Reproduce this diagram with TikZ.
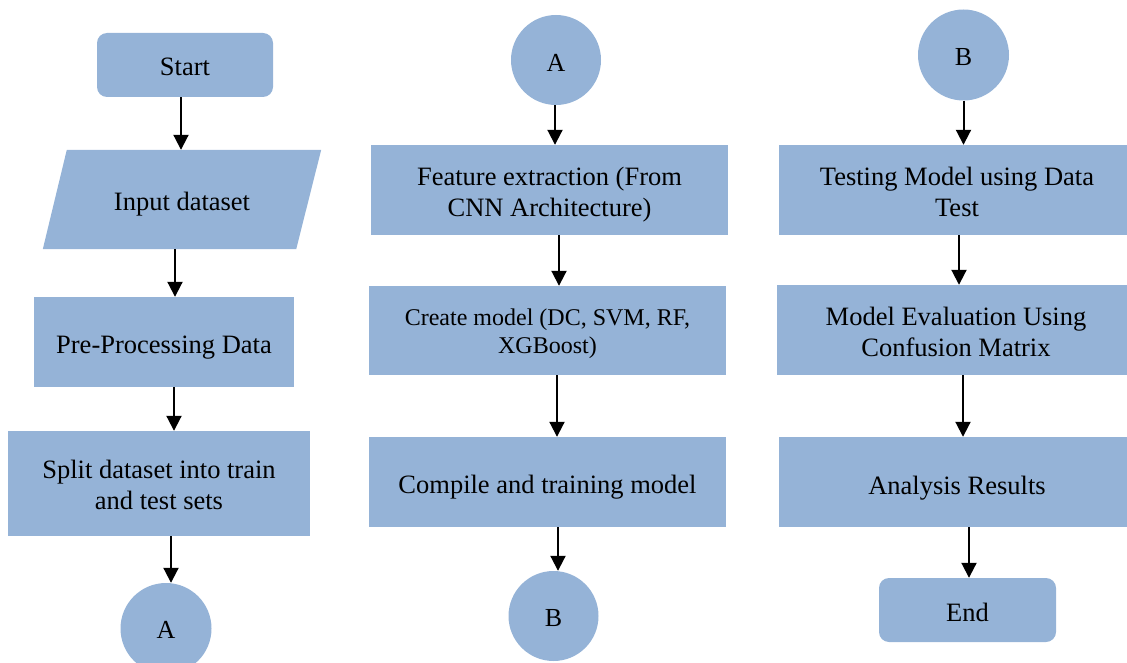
\documentclass[tikz,border=0pt]{standalone}
\usepackage{fontspec}
\setmainfont{Liberation Serif}
\usetikzlibrary{arrows.meta,backgrounds}
\definecolor{boxblue}{RGB}{149,179,215}
\newcommand{\tx}[2][4pt]{\raisebox{-#1}[\height][\depth]{\begin{tabular}{@{}c@{}}#2\end{tabular}}}
\tikzset{
  box/.style={fill=boxblue,draw=none,inner sep=0pt,align=center,font=\fontsize{26.5}{31}\selectfont},
  roundbox/.style={box,rounded corners=10pt},
  conn/.style={circle,fill=boxblue,draw=none,inner sep=0pt,minimum size=91pt,font=\fontsize{26}{31}\selectfont},
  arr/.style={line width=2pt,-{Triangle[width=15pt,length=15pt]}}
}
\begin{document}
\begin{tikzpicture}[x=1pt,y=-1pt]
\useasboundingbox (0,0) rectangle (1127,663);
\clip (0,0) rectangle (1127,663);
% column 1
\node[roundbox,minimum width=176pt,minimum height=64pt] (start) at (185,65) {\tx[4pt]{Start}};
\node[box,fill=none,minimum width=278pt,minimum height=99pt] (input) at (182,199.5) {\tx[5pt]{Input dataset}};
\begin{scope}[on background layer]
\fill[boxblue] (input.south west) -- ([xshift=-25pt]input.south east) -- (input.north east) -- ([xshift=24pt]input.north west) -- cycle;
\end{scope}
\node[box,minimum width=260pt,minimum height=90pt] (pre) at (164,342) {\tx[5pt]{Pre-Processing Data}};
\node[box,minimum width=302pt,minimum height=105pt] (split) at (159,483.5) {\tx[4pt]{Split dataset into train\\and test sets}};
\node[conn] (a1) at (166,628.5) {\tx[4pt]{A}};
% column 2
\node[conn,minimum size=90pt] (a2) at (556,60) {\tx[5pt]{A}};
\node[box,minimum width=357pt,minimum height=90pt] (feat) at (549.5,190) {\tx[5pt]{Feature extraction (From\\CNN Architecture)}};
\node[box,minimum width=357pt,minimum height=89pt,font=\fontsize{24}{28}\selectfont] (create) at (547.5,330.5) {\tx[3.5pt]{Create model (DC, SVM, RF,\\XGBoost)}};
\node[box,minimum width=357pt,minimum height=90pt] (compile) at (547.5,482) {\tx[5pt]{Compile and training model}};
\node[conn,minimum size=90pt] (b1) at (553.5,616) {\tx[4pt]{B}};
% column 3
\node[conn] (b2) at (963.5,55) {\tx[4pt]{B}};
\node[box,minimum width=356pt,minimum height=90pt] (test) at (957,190) {\tx[5pt]{Testing Model using Data\\Test}};
\node[box,minimum width=358pt,minimum height=90pt] (eval) at (956,330) {\tx[5pt]{Model Evaluation Using\\Confusion Matrix}};
\node[box,minimum width=356pt,minimum height=90pt] (anal) at (957,482) {\tx[6pt]{Analysis Results}};
\node[roundbox,minimum width=177pt,minimum height=64pt] (end) at (967.5,610) {\tx[5pt]{End}};
% arrows
\draw[arr] ([xshift=-4pt]start.south) -- ([xshift=-4pt]start.south |- input.north);
\draw[arr] ([xshift=-7pt]input.south) -- ([xshift=-7pt]input.south |- pre.north);
\draw[arr] ([xshift=10pt]pre.south) -- ([xshift=10pt]pre.south |- split.north);
\draw[arr] ([xshift=12pt]split.south) -- ([xshift=12pt]split.south |- a1.north);
\draw[arr] ([xshift=-1pt]a2.south) -- ([xshift=-1pt]a2.south |- feat.north);
\draw[arr] ([xshift=9.5pt]feat.south) -- ([xshift=9.5pt]feat.south |- create.north);
\draw[arr] ([xshift=9.5pt]create.south) -- ([xshift=9.5pt]create.south |- compile.north);
\draw[arr] ([xshift=10.5pt]compile.south) -- ([xshift=10.5pt]compile.south |- b1.north);
\draw[arr] (b2.south) -- (b2.south |- test.north);
\draw[arr] ([xshift=2pt]test.south) -- ([xshift=2pt]test.south |- eval.north);
\draw[arr] ([xshift=7pt]eval.south) -- ([xshift=7pt]eval.south |- anal.north);
\draw[arr] ([xshift=12pt]anal.south) -- ([xshift=12pt]anal.south |- end.north);
\end{tikzpicture}
\end{document}
